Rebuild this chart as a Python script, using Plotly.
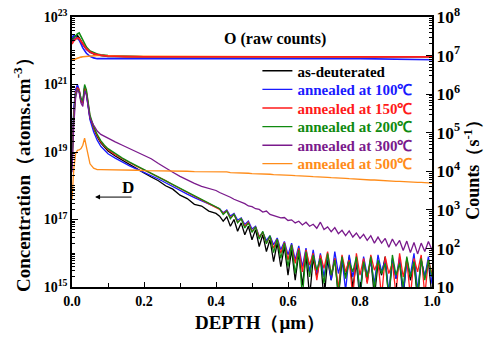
import plotly.graph_objects as go

# ---------------- data (log10 values) ----------------
DEPTH = [0.0, 0.005, 0.01, 0.015, 0.02, 0.025, 0.03, 0.035, 0.04, 0.045, 0.05,
         0.06, 0.07, 0.08, 0.09, 0.10, 0.12, 0.14, 0.16, 0.18, 0.20, 0.22, 0.24,
         0.26, 0.28, 0.30, 0.32, 0.34, 0.36, 0.38, 0.40,
         0.41, 0.42, 0.43, 0.44, 0.45, 0.46, 0.47, 0.48, 0.49, 0.50,
         0.51, 0.52, 0.53, 0.54, 0.55, 0.56, 0.57, 0.58, 0.59, 0.60,
         0.61, 0.62, 0.63, 0.64, 0.65, 0.66, 0.67, 0.68, 0.69, 0.70,
         0.71, 0.72, 0.73, 0.74, 0.75, 0.76, 0.77, 0.78, 0.79, 0.80,
         0.81, 0.82, 0.83, 0.84, 0.85, 0.86, 0.87, 0.88, 0.89, 0.90,
         0.91, 0.92, 0.93, 0.94, 0.95, 0.96, 0.97, 0.98, 0.99, 1.00]

D_BLACK = [18.8, 20.2, 20.8, 20.95, 20.8, 20.5, 20.45, 20.9, 20.75, 20.35, 20.0,
           19.7, 19.45, 19.27, 19.14, 19.03, 18.88, 18.75, 18.62, 18.5, 18.38, 18.26, 18.15,
           18.0, 17.9, 17.72, 17.62, 17.45, 17.4, 17.25, 17.18,
           17.10, 16.95, 17.08, 16.80, 17.00, 16.65, 16.90, 16.55, 16.80, 16.40,
           16.70, 16.20, 16.55, 16.05, 16.40, 15.75, 16.30, 15.60, 16.20, 15.35,
           16.10, 15.20, 16.00, 15.05, 15.95, 14.70, 15.85, 15.30, 15.90, 14.60,
           15.80, 15.20, 15.85, 14.70, 15.75, 15.30, 15.90, 15.00, 15.70, 14.60,
           15.80, 15.15, 15.85, 14.70, 15.70, 15.35, 15.90, 14.65, 15.80, 15.25,
           15.75, 14.70, 15.85, 15.20, 15.70, 14.60, 15.80, 15.30, 15.75, 14.70]

D_100 = [18.9, 20.3, 20.85, 21.0, 20.85, 20.55, 20.45, 20.95, 20.7, 20.3, 19.95,
         19.6, 19.35, 19.17, 19.05, 18.95, 18.82, 18.7, 18.59, 18.49, 18.4, 18.3, 18.2,
         18.09, 17.97, 17.85, 17.75, 17.65, 17.55, 17.45, 17.35,
         17.32, 17.20, 17.28, 17.10, 17.18, 16.98, 17.05, 16.85, 16.95, 16.72,
         16.80, 16.50, 16.62, 16.38, 16.52, 16.25, 16.45, 16.10, 16.35, 15.95,
         16.30, 15.80, 16.22, 15.60, 16.15, 15.45, 16.10, 15.40, 16.00, 15.30,
         15.95, 15.20, 16.05, 15.40, 15.85, 14.90, 15.95, 15.30, 15.80, 14.80,
         15.90, 15.35, 15.75, 15.10, 15.95, 15.45, 15.80, 14.85, 15.85, 15.25,
         15.90, 14.80, 15.75, 15.35, 16.00, 14.90, 15.80, 15.30, 15.90, 15.10]

D_150 = [18.7, 20.1, 20.75, 20.9, 20.85, 20.55, 20.45, 20.9, 20.8, 20.4, 20.05,
         19.72, 19.48, 19.3, 19.17, 19.07, 18.92, 18.8, 18.68, 18.57, 18.47, 18.37, 18.26,
         18.15, 18.03, 17.91, 17.8, 17.69, 17.58, 17.47, 17.37,
         17.30, 17.18, 17.26, 17.05, 17.15, 16.92, 17.02, 16.80, 16.92, 16.65,
         16.78, 16.48, 16.62, 16.30, 16.50, 16.15, 16.42, 16.00, 16.32, 15.80,
         16.25, 15.70, 16.15, 15.45, 16.10, 15.65, 16.00, 15.20, 15.95, 15.55,
         16.05, 15.35, 15.85, 14.95, 15.95, 15.45, 15.80, 14.70, 16.00, 15.35,
         15.85, 15.10, 15.95, 15.50, 15.75, 14.70, 15.90, 15.40, 15.70, 14.80,
         16.00, 15.30, 15.80, 14.70, 15.85, 15.45, 15.95, 14.75, 15.80, 15.40]

D_200 = [18.6, 20.0, 20.7, 20.85, 20.8, 20.6, 20.5, 21.0, 20.85, 20.45, 20.1,
         19.76, 19.52, 19.34, 19.2, 19.1, 18.95, 18.82, 18.7, 18.59, 18.49, 18.38, 18.27,
         18.16, 18.04, 17.92, 17.81, 17.7, 17.59, 17.48, 17.38,
         17.32, 17.15, 17.25, 17.02, 17.16, 16.90, 17.02, 16.75, 16.90, 16.62,
         16.78, 16.42, 16.65, 16.28, 16.52, 16.02, 16.42, 15.85, 16.30, 15.60,
         16.25, 15.40, 16.10, 14.70, 16.05, 15.30, 15.95, 15.50, 15.85, 15.10,
         16.00, 15.35, 15.80, 14.75, 15.90, 15.25, 15.75, 15.45, 15.90, 14.80,
         15.75, 15.30, 15.90, 14.95, 15.80, 15.40, 15.70, 14.70, 15.95, 15.35,
         15.70, 15.00, 15.90, 15.30, 15.75, 14.75, 15.85, 15.20, 15.80, 15.30]

D_300 = [18.4, 19.8, 20.6, 20.85, 20.75, 20.45, 20.35, 20.8, 20.7, 20.35, 20.0,
         19.8, 19.62, 19.52, 19.46, 19.4, 19.3, 19.2, 19.1, 19.0, 18.92, 18.8, 18.66,
         18.52, 18.4, 18.28, 18.17, 18.07, 17.98, 17.93, 17.86,
         17.80, 17.76, 17.70, 17.66, 17.60, 17.56, 17.50, 17.47, 17.40, 17.38,
         17.32, 17.30, 17.22, 17.25, 17.15, 17.12, 17.08, 17.05, 17.06, 16.97,
         16.99, 16.90, 16.95, 16.84, 16.92, 16.80, 16.86, 16.74, 16.92, 16.70,
         16.78, 16.64, 16.76, 16.58, 16.68, 16.52, 16.66, 16.48, 16.60, 16.44,
         16.56, 16.38, 16.52, 16.30, 16.48, 16.30, 16.44, 16.18, 16.42, 16.22,
         16.38, 16.08, 16.36, 16.02, 16.32, 15.98, 16.30, 16.05, 16.35, 16.10]

D_500 = [17.6, 18.5, 18.95, 19.05, 19.06, 19.1, 19.2, 19.41, 19.15, 18.85, 18.65,
         18.52, 18.48, 18.48, 18.48, 18.47, 18.47, 18.47, 18.46, 18.46, 18.45, 18.45, 18.45,
         18.44, 18.44, 18.43, 18.43, 18.42, 18.42, 18.41, 18.41,
         18.41, 18.40, 18.41, 18.39, 18.39, 18.38, 18.38, 18.37, 18.37, 18.36,
         18.36, 18.35, 18.35, 18.34, 18.34, 18.33, 18.33, 18.32, 18.32, 18.31,
         18.31, 18.30, 18.30, 18.29, 18.29, 18.28, 18.27, 18.27, 18.26, 18.25,
         18.25, 18.24, 18.24, 18.23, 18.22, 18.22, 18.21, 18.20, 18.20, 18.19,
         18.18, 18.18, 18.17, 18.17, 18.16, 18.15, 18.15, 18.14, 18.14, 18.13,
         18.13, 18.12, 18.12, 18.11, 18.11, 18.10, 18.10, 18.09, 18.09, 18.08]

O_DEPTH = [0.0, 0.005, 0.01, 0.015, 0.02, 0.025, 0.03, 0.04, 0.05, 0.06, 0.07,
           0.08, 0.10, 0.15, 0.20, 0.40, 0.60, 0.80, 1.00]
O_BLACK = [7.42, 7.52, 7.5, 7.52, 7.46, 7.38, 7.3, 7.18, 7.1, 7.05, 7.02, 7.0, 6.98, 6.97, 6.97, 6.97, 6.97, 6.97, 6.96]
O_100 = [7.45, 7.53, 7.5, 7.46, 7.4, 7.3, 7.2, 7.06, 6.98, 6.94, 6.92, 6.92, 6.92, 6.92, 6.93, 6.93, 6.93, 6.92, 6.89]
O_150 = [7.3, 7.38, 7.42, 7.46, 7.44, 7.38, 7.3, 7.18, 7.1, 7.05, 7.03, 7.01, 6.99, 6.97, 6.97, 6.97, 6.97, 6.97, 6.97]
O_200 = [7.4, 7.46, 7.5, 7.56, 7.59, 7.5, 7.4, 7.22, 7.12, 7.07, 7.04, 7.02, 7.0, 6.98, 6.97, 6.97, 6.97, 6.97, 6.96]
O_300 = [7.35, 7.42, 7.45, 7.45, 7.42, 7.36, 7.28, 7.16, 7.08, 7.04, 7.02, 7.01, 6.99, 6.98, 6.97, 6.97, 6.97, 6.97, 6.96]
O_500 = [6.88, 6.9, 6.92, 6.94, 6.95, 6.96, 6.97, 6.98, 6.99, 7.0, 7.0, 7.0, 6.99, 6.98, 6.98, 6.97, 6.97, 6.97, 6.97]

NAMES = ["as-deuterated", "annealed at 100℃", "annealed at 150℃",
         "annealed at 200℃", "annealed at 300℃", "annealed at 500℃"]
COLORS = ["#000000", "#1a1aff", "#ff1a1a", "#108a10", "#7a1a8c", "#ff8c1a"]
LEFT_TICKS = [1e15, 1e17, 1e19, 1e21, 1e23]
LEFT_TICK_TEXT = ["10<sup>15</sup>", "10<sup>17</sup>", "10<sup>19</sup>",
                  "10<sup>21</sup>", "10<sup>23</sup>"]
D_SERIES = [D_BLACK, D_100, D_150, D_200, D_300, D_500]
O_SERIES = [O_BLACK, O_100, O_200, O_300, O_500, O_150]
O_COLORS = [COLORS[0], COLORS[1], COLORS[3], COLORS[4], COLORS[5], COLORS[2]]

FONT = "Liberation Serif"

fig = go.Figure()

# O raw counts (right axis)
for vals, col in zip(O_SERIES, O_COLORS):
    fig.add_trace(go.Scatter(x=O_DEPTH, y=[10 ** v for v in vals], mode="lines",
                             line=dict(color=col, width=1.6), yaxis="y2",
                             showlegend=False, hoverinfo="skip"))

# D profiles (left axis), each with its own legend row
LEGEND_IDS = ["legend", "legend2", "legend3", "legend4", "legend5", "legend6"]
for vals, col, name, lg in zip(D_SERIES, COLORS, NAMES, LEGEND_IDS):
    fig.add_trace(go.Scatter(x=DEPTH, y=[10 ** v for v in vals], mode="lines",
                             line=dict(color=col, width=1.3), legend=lg,
                             name=f"<span style='color:{col}'>{name}</span>"))

axis_common = dict(showline=True, linecolor="black", linewidth=1.5, automargin=False,
                   ticks="inside", tickcolor="black", showgrid=False, zeroline=False,
                   ticklabeloverflow="allow")

legend_rows = [0.800, 0.731, 0.662, 0.593, 0.524, 0.456]
legend_layout = {}
for lg, yy in zip(LEGEND_IDS, legend_rows):
    legend_layout[lg] = dict(x=0.515, y=yy, xanchor="left", yanchor="middle",
                             bgcolor="rgba(0,0,0,0)",
                             font=dict(family=FONT, size=15, weight="bold"))

TITLE_FONT = dict(family=FONT, size=19, weight="bold")

fig.update_layout(
    width=487, height=339,
    margin=dict(l=72, r=55, t=17, b=52),
    paper_bgcolor="white", plot_bgcolor="white",
    font=dict(family=FONT, color="black"),
    xaxis=dict(range=[0, 1.0], dtick=0.2, tickformat=".1f", ticklen=5, tickwidth=1.2,
               minor=dict(dtick=0.1, ticks="inside", ticklen=4, tickcolor="black"),
               mirror=True,
               tickfont=dict(family=FONT, size=14, weight="bold"),
               **axis_common),
    yaxis=dict(type="log", range=[15, 23], tickvals=LEFT_TICKS, ticktext=LEFT_TICK_TEXT,
               ticklen=6,
               minor=dict(dtick="D1", ticks="inside", ticklen=3, tickcolor="black"),
               tickfont=dict(family=FONT, size=14, weight="bold"),
               **axis_common),
    yaxis2=dict(type="log", range=[1, 8], dtick=1, exponentformat="power", ticklen=6,
                overlaying="y", side="right",
                minor=dict(dtick="D1", ticks="inside", ticklen=3, tickcolor="black"),
                tickfont=dict(family=FONT, size=14, weight="bold"),
                **axis_common),
    annotations=[
        dict(text="DEPTH（μm）", x=0.522, y=-0.13, xref="paper", yref="paper",
             xanchor="center", yanchor="middle", showarrow=False, font=TITLE_FONT),
        dict(text="Concentration（atoms.cm<sup>-3</sup>）", x=-0.139, y=0.433,
             xref="paper", yref="paper", xanchor="center", yanchor="middle",
             textangle=-90, showarrow=False, font=TITLE_FONT),
        dict(text="Counts（s<sup>-1</sup>）", x=1.113, y=0.452,
             xref="paper", yref="paper", xanchor="center", yanchor="middle",
             textangle=-90, showarrow=False, font=dict(family=FONT, size=18, weight="bold")),
        dict(text="O (raw counts)", x=0.564, y=0.918, xref="paper", yref="paper",
             xanchor="center", yanchor="middle",
             showarrow=False, font=dict(family=FONT, size=16, weight="bold")),
        dict(text="D", x=0.156, y=0.37, xref="paper", yref="paper",
             xanchor="center", yanchor="middle",
             showarrow=False, font=dict(family=FONT, size=17, weight="bold")),
        dict(text="", x=0.064, y=0.333, xref="paper", yref="paper",
             showarrow=True, ax=38, ay=0, arrowhead=2, arrowsize=1, arrowwidth=1,
             arrowcolor="black"),
    ],
    **legend_layout,
)

fig.write_html("out.html",
               config={"displayModeBar": False},
               post_script="document.body.style.margin='0';"
                           "document.body.style.overflow='hidden';")
